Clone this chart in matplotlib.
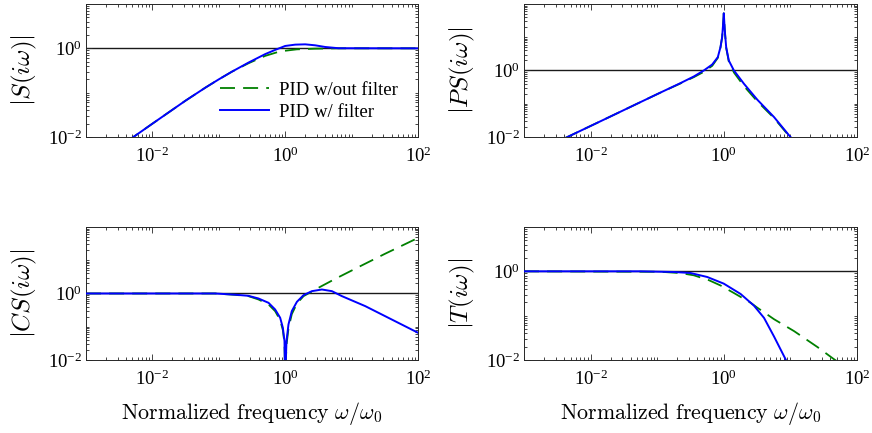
#!/usr/bin/env python3
"""Sensitivity functions of a PID loop with and without derivative filter."""

import matplotlib

matplotlib.use("Agg")
import matplotlib.pyplot as plt
import numpy as np
from matplotlib.ticker import FixedLocator, LogFormatterSciNotation, LogLocator, NullFormatter

plt.rcParams["font.family"] = ["Liberation Serif", "DejaVu Serif"]
plt.rcParams["mathtext.fontset"] = "cm"

# |S(iw)|
S_w_filt = [0.00398, 0.01, 0.0316, 0.0631, 0.1, 0.1585, 0.2818, 0.5012, 0.7079, 1.0, 1.416, 2.004,
            2.831, 4.009, 6.368, 100]
S_filt = [0.00759, 0.01995, 0.0661, 0.1303, 0.1995, 0.2985, 0.4786, 0.7413, 0.9226, 1.130, 1.211,
          1.230, 1.169, 1.072, 1.005, 1.0]
S_w_nofilt = [0.00398, 0.01, 0.0316, 0.0631, 0.1, 0.1585, 0.2818, 0.5012, 0.841, 1.500, 2.831,
              6.31, 100]
S_nofilt = [0.00759, 0.01995, 0.0661, 0.1303, 0.1995, 0.2985, 0.4624, 0.676, 0.855, 0.948, 0.982,
            1.0, 1.0]

# |PS(iw)|
PS_w = [0.00398, 0.01585, 0.0558, 0.1117, 0.2234, 0.3548, 0.5012, 0.6699, 0.8128, 0.8913, 0.9441,
        0.9772, 1.0, 1.035, 1.086, 1.189, 1.419, 2.009, 3.192, 5.675, 9.55, 11.22]
PS_filt = [0.00891, 0.0333, 0.1114, 0.2163, 0.4169, 0.6607, 1.0, 1.514, 2.512, 5.012, 10.0,
           25.12, 52.5, 15.85, 5.012, 1.995, 1.0, 0.398, 0.1318, 0.0398, 0.01122, 0.00776]
PS_nofilt = [0.00891, 0.0333, 0.1114, 0.2163, 0.407, 0.631, 0.912, 1.380, 2.399, 4.898, 10.0,
             25.12, 52.5, 15.85, 4.786, 1.862, 0.871, 0.339, 0.1175, 0.0372, 0.01072, 0.00741]

# |CS(iw)|
CS_w_filt = [0.001, 0.0881, 0.1762, 0.280, 0.396, 0.561, 0.706, 0.841, 0.923, 0.977, 1.0, 1.047,
             1.122, 1.259, 1.503, 1.892, 2.529, 3.573, 5.058, 7.161, 16.07, 100]
CS_filt = [1.0, 1.0, 0.920, 0.851, 0.708, 0.525, 0.331, 0.186, 0.0933, 0.0372, 0.00251, 0.0372,
           0.1175, 0.295, 0.562, 0.891, 1.175, 1.318, 1.175, 0.832, 0.417, 0.0661]
CS_w_nofilt = [0.001, 0.0881, 0.1762, 0.280, 0.396, 0.561, 0.706, 0.841, 0.923, 0.977, 1.0, 1.047,
               1.122, 1.259, 1.503, 1.892, 2.529, 3.373, 5.675, 13.49, 31.62, 100]
CS_nofilt = [1.0, 1.0, 0.912, 0.832, 0.661, 0.468, 0.295, 0.158, 0.0794, 0.0316, 0.00251, 0.0282,
             0.0891, 0.240, 0.501, 0.832, 1.148, 1.585, 2.754, 6.607, 15.49, 46.77]

# |T(iw)|
T_w_filt = [0.001, 0.0558, 0.1774, 0.3162, 0.5636, 1.0, 1.791, 2.838, 4.018, 5.675, 8.511, 10]
T_filt = [1.0, 1.0, 0.966, 0.916, 0.745, 0.527, 0.308, 0.168, 0.0891, 0.0339, 0.01023, 0.00603]
T_w_nofilt = [0.001, 0.1117, 0.2234, 0.3548, 0.597, 0.895, 1.419, 2.535, 3.192, 5.675, 11.38,
              25.59, 43.05, 50.12]
T_nofilt = [1.0, 0.977, 0.912, 0.813, 0.631, 0.479, 0.324, 0.195, 0.151, 0.0832, 0.0447,
            0.0195, 0.01096, 0.00933]

XLIM = (1e-3, 1e2)
GREEN = (0, 0.5, 0)
BLUE = (0, 0, 1)
XLABEL = r"$\mathrm{Normalized\ frequency}\ \omega/\omega_0$"


def style_axes(ax, ytop):
    ax.set_xscale("log")
    ax.set_yscale("log")
    ax.set_xlim(*XLIM)
    ax.set_ylim(1e-2, ytop)
    ax.xaxis.set_major_locator(FixedLocator([1e-2, 1e0, 1e2]))
    ax.yaxis.set_major_locator(FixedLocator([1e-2, 1e0]))
    for axis in (ax.xaxis, ax.yaxis):
        axis.set_major_formatter(LogFormatterSciNotation())
        axis.set_minor_locator(LogLocator(base=10, subs=np.arange(1, 10), numticks=50))
        axis.set_minor_formatter(NullFormatter())
    ax.tick_params(which="both", direction="in", top=True, right=True,
                   color="0.15", width=0.6, labelsize=13.5)
    ax.tick_params(which="major", length=4.5)
    ax.tick_params(which="minor", length=2.5)
    ax.tick_params(axis="x", which="major", pad=7)
    ax.tick_params(axis="y", which="major", pad=3)
    for sp in ax.spines.values():
        sp.set_color("0.15")
        sp.set_linewidth(0.7)
    ax.axhline(1.0, color="0.1", lw=1.0, zorder=1)


def main() -> None:
    fig = plt.figure(figsize=(8.72, 4.33), dpi=100)
    ax_s = fig.add_axes([0.0986, 0.6836, 0.3807, 0.3072])
    ax_ps = fig.add_axes([0.6009, 0.6836, 0.3819, 0.3072])
    ax_cs = fig.add_axes([0.0986, 0.1686, 0.3807, 0.3072])
    ax_t = fig.add_axes([0.6009, 0.1686, 0.3819, 0.3072])

    dash = dict(color=GREEN, lw=1.3, dashes=(8.3, 4.5), zorder=2)
    solid = dict(color=BLUE, lw=1.4, zorder=3)

    style_axes(ax_s, 1e1)
    ax_s.plot(S_w_nofilt, S_nofilt, label="PID w/out filter", **dash)
    ax_s.plot(S_w_filt, S_filt, label="PID w/ filter", **solid)
    ax_s.set_ylabel(r"$|S(i\omega)|$", fontsize=18, labelpad=6)
    ax_s.legend(loc="center", bbox_to_anchor=(0.672, 0.27), frameon=False,
                fontsize=13.5, handlelength=2.6, handletextpad=0.55,
                labelspacing=0.25, borderpad=0)

    style_axes(ax_ps, 1e2)
    ax_ps.plot(PS_w, PS_nofilt, **dash)
    ax_ps.plot(PS_w, PS_filt, **solid)
    ax_ps.set_ylabel(r"$|PS(i\omega)|$", fontsize=18, labelpad=6)

    style_axes(ax_cs, 1e2)
    ax_cs.plot(CS_w_nofilt, CS_nofilt, **dash)
    ax_cs.plot(CS_w_filt, CS_filt, **solid)
    ax_cs.set_ylabel(r"$|CS(i\omega)|$", fontsize=18, labelpad=6)
    ax_cs.set_xlabel(XLABEL, fontsize=15.8, labelpad=8)

    style_axes(ax_t, 1e1)
    ax_t.plot(T_w_nofilt, T_nofilt, **dash)
    ax_t.plot(T_w_filt, T_filt, **solid)
    ax_t.set_ylabel(r"$|T(i\omega)|$", fontsize=18, labelpad=6)
    ax_t.set_xlabel(XLABEL, fontsize=15.8, labelpad=8)

    fig.savefig("out.png", dpi=100)
    plt.close(fig)


if __name__ == "__main__":
    main()
